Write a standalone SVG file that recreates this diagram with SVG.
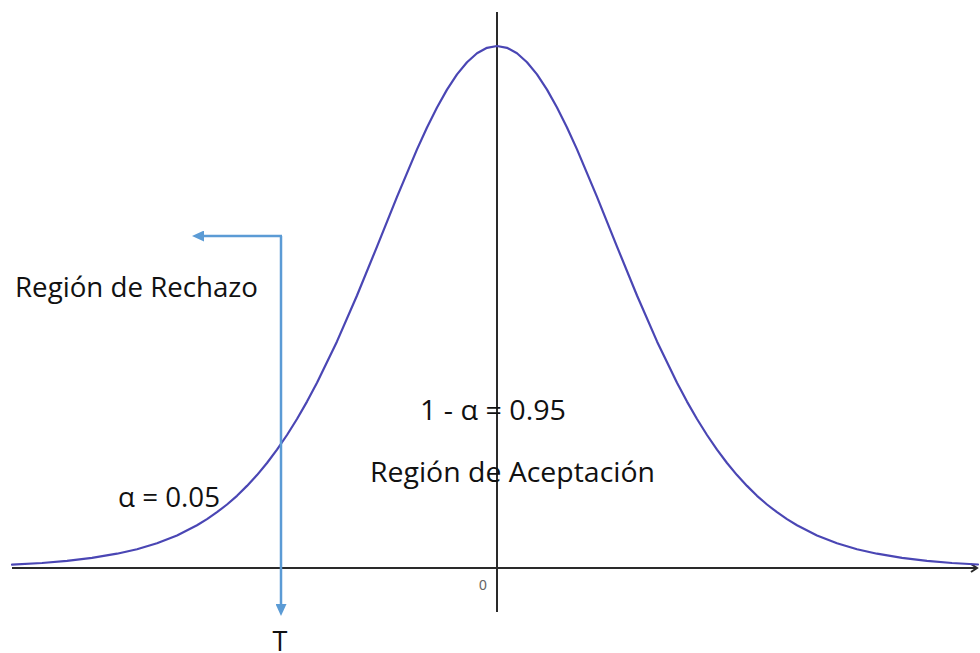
<svg xmlns="http://www.w3.org/2000/svg" width="980" height="653" viewBox="0 0 980 653">
<defs>
<style>
.lbl{font-family:"Open Sans","Liberation Sans",Arial,sans-serif;font-size:27px;fill:#111}
.axis{stroke:#2a2a2a;stroke-width:2;fill:none}
.curve{stroke:#4a46b4;stroke-width:2.2;fill:none;stroke-linejoin:round;stroke-linecap:round}
.blue{stroke:#5b9bd5;stroke-width:2.5;fill:none}
</style>
<marker id="ah" markerUnits="userSpaceOnUse" markerWidth="12" markerHeight="11" refX="0" refY="5.5" orient="auto">
<path d="M0,0 L12,5.5 L0,11 z" fill="#5b9bd5"/>
</marker>
</defs>
<rect width="980" height="653" fill="#ffffff"/>
<g id="axes">
<line class="axis" x1="12" y1="568" x2="977" y2="568"/>
<path class="axis" d="M971,564 L977,568 L971,572" stroke-width="1.5"/>
<line class="axis" x1="497" y1="12" x2="497" y2="612"/>
<text x="483" y="590" font-family="'Liberation Sans',Arial,sans-serif" font-size="14" fill="#666" text-anchor="middle">0</text>
</g>
<g id="curve">
<polyline class="curve" points="12,564.7 42,563 67,560.9 92,557.9 117,553.7 137,549.2 157,543.2 177,535.4 197,525.2 207,519.1 217,512.2 227,504.5 237,495.8 247,485.9 257,475.1 267,463 277,449.7 287,435 297,419 307,401.6 317,382.8 337,341.4 357,295.5 377,246.6 397,196.9 417,149.4 427,127.5 437,107.5 447,89.6 457,74.4 467,62.2 477,53.3 487,47.8 497,46 507,47.8 517,53.3 527,62.2 537,74.4 547,89.6 557,107.5 567,127.5 577,149.4 597,196.9 617,246.6 637,295.5 657,341.4 677,382.8 687,401.6 697,419 707,435 717,449.7 727,463 737,475.1 747,485.9 757,495.8 767,504.5 777,512.2 787,519.1 797,525.2 817,535.4 837,543.2 857,549.2 877,553.7 902,557.9 927,560.9 952,563 978,564.5"/>
</g>
<g id="connectors">
<path class="blue" d="M281,236 L281,604" marker-end="url(#ah)"/>
<path class="blue" d="M282,236 L204,236" marker-end="url(#ah)"/>
</g>
<g id="labels">
<text class="lbl" x="15" y="297" textLength="243" lengthAdjust="spacingAndGlyphs">Región de Rechazo</text>
<text class="lbl" x="420" y="420" textLength="146" lengthAdjust="spacingAndGlyphs">1 - α = 0.95</text>
<text class="lbl" x="370" y="482" textLength="285" lengthAdjust="spacingAndGlyphs">Región de Aceptación</text>
<text class="lbl" x="118" y="507" textLength="102" lengthAdjust="spacingAndGlyphs">α = 0.05</text>
<text class="lbl" x="280" y="651" text-anchor="middle">T</text>
</g>
</svg>
